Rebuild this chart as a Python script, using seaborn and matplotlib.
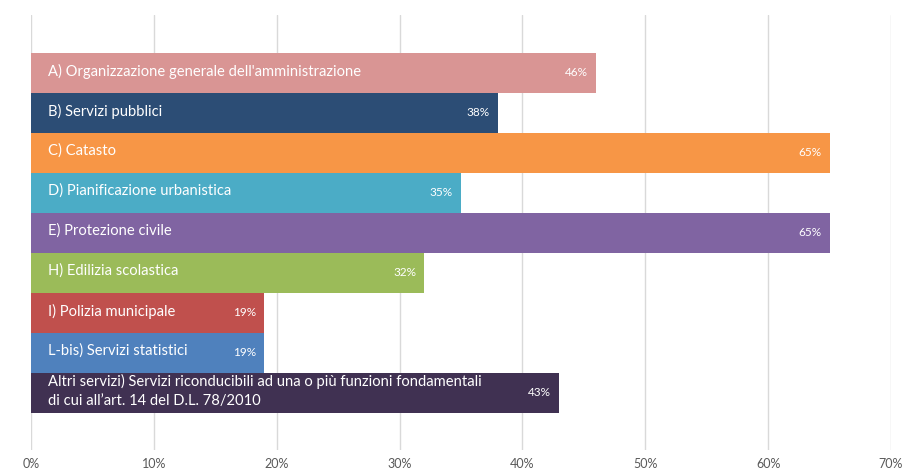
import matplotlib
matplotlib.use("Agg")
import matplotlib.pyplot as plt
import seaborn as sns
import pandas as pd
from matplotlib.ticker import FuncFormatter, MultipleLocator
from matplotlib.transforms import offset_copy

categories = [
    "A) Organizzazione generale dell'amministrazione",
    "B) Servizi pubblici",
    "C) Catasto",
    "D) Pianificazione urbanistica",
    "E) Protezione civile",
    "H) Edilizia scolastica",
    "I) Polizia municipale",
    "L-bis) Servizi statistici",
    "Altri servizi) Servizi riconducibili ad una o più funzioni fondamentali\ndi cui all’art. 14 del D.L. 78/2010",
]
values = [46, 38, 65, 35, 65, 32, 19, 19, 43]
colors = ["#D99594", "#2C4D75", "#F79646", "#4BACC6", "#8064A2",
          "#9BBB59", "#C0504D", "#4F81BD", "#403152"]

sns.set_theme(style="white")
plt.rcParams["font.family"] = ["Lato", "DejaVu Sans"]

df = pd.DataFrame({"servizio": categories, "quota": values})

fig = plt.figure(figsize=(9.04, 4.72), dpi=100)
ax = fig.add_axes([31 / 904, 1 - 450 / 472, 860 / 904, 435 / 472])

sns.barplot(data=df, x="quota", y="servizio", hue="servizio",
            palette=colors, orient="h", width=1.0, saturation=1.0,
            legend=False, ax=ax, zorder=2, linewidth=0, edgecolor="none")

ax.set_xlim(0, 70)
ax.set_ylim(9.425, -1.45)
ax.xaxis.set_major_locator(MultipleLocator(10))
ax.xaxis.set_major_formatter(FuncFormatter(lambda v, _: f"{v:.0f}%"))
ax.grid(axis="x", color="#D9D9D9", linewidth=1.0, zorder=0)
ax.set_axisbelow(True)
ax.set_yticks([])
ax.set_xlabel("")
ax.set_ylabel("")
for s in ax.spines.values():
    s.set_visible(False)
ax.tick_params(axis="x", length=0, pad=6, labelsize=9, labelcolor="#595959")

name_tr = offset_copy(ax.transData, fig=fig, x=17, y=0, units="dots")
val_tr = offset_copy(ax.transData, fig=fig, x=-8, y=0, units="dots")
for i, (name, v) in enumerate(zip(categories, values)):
    ax.text(0, i - 0.05, name, transform=name_tr, ha="left", va="center",
            color="white", fontsize=10.6, linespacing=1.4, zorder=3)
    ax.text(v, i, f"{v}%", transform=val_tr, ha="right", va="center",
            color="white", fontsize=8.5, zorder=3)

fig.savefig("out.png", dpi=100, facecolor="white")
